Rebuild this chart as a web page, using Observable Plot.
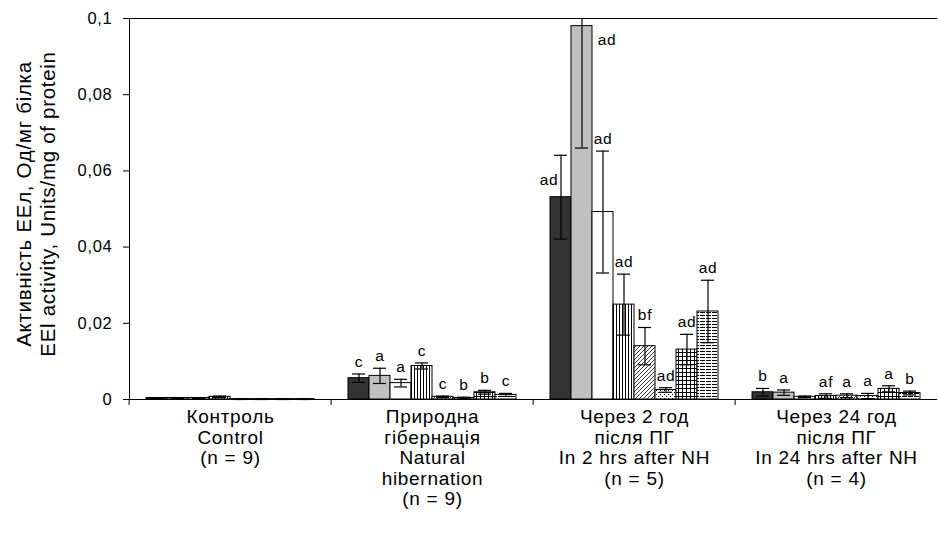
<!DOCTYPE html>
<html>
<head>
<meta charset="utf-8">
<script src="https://cdn.jsdelivr.net/npm/d3@7"></script>
<script src="https://cdn.jsdelivr.net/npm/@observablehq/plot@0.6"></script>
<style>
  html, body { margin: 0; padding: 0; background: #fff; }
  #chart { width: 938px; height: 533px; }
</style>
</head>
<body>
<div id="chart"></div>
<script>
// ---- data ----
const groups = ["Контроль", "Природна гібернація", "Через 2 год", "Через 24 год"];
const groupLabels = [
  "Контроль\nControl\n(n = 9)",
  "Природна\nгібернація\nNatural\nhibernation\n(n = 9)",
  "Через 2 год\nпісля ПГ\nIn 2 hrs after NH\n(n = 5)",
  "Через 24 год\nпісля ПГ\nIn 24 hrs after NH\n(n = 4)"
];
const seriesNames = ["S1", "S2", "S3", "S4", "S5", "S6", "S7", "S8"];

const controlMean = [0.0004, 0.0004, 0.0004, 0.0007, 0.0001, 0.0001, 0.0001, 0.0001];
const controlErr  = [0.0001, 0.0001, 0.0001, 0.0002, 0.0001, 0.0001, 0.0001, 0.0001];
const controlSig  = ["", "", "", "", "", "", "", ""];

const hibMean = [0.0056, 0.0062, 0.0043, 0.0088, 0.0007, 0.0004, 0.0019, 0.0012];
const hibErr  = [0.0011, 0.0020, 0.0010, 0.0008, 0.0002, 0.0002, 0.0005, 0.0004];
const hibSig  = ["c", "a", "a", "c", "c", "b", "b", "c"];

const h2Mean = [0.0531, 0.0980, 0.0492, 0.0249, 0.0140, 0.0025, 0.0131, 0.0231];
const h2Err  = [0.0110, 0.0320, 0.0160, 0.0080, 0.0049, 0.0006, 0.0040, 0.0082];
const h2Sig  = ["ad", "ad", "ad", "ad", "bf", "ad", "ad", "ad"];

const h24Mean = [0.0019, 0.0018, 0.0007, 0.0009, 0.0010, 0.0009, 0.0028, 0.0017];
const h24Err  = [0.0010, 0.0007, 0.0002, 0.0006, 0.0005, 0.0007, 0.0008, 0.0005];
const h24Sig  = ["b", "a", "", "af", "a", "a", "a", "b"];

const yTicks = [0, 0.02, 0.04, 0.06, 0.08, 0.1];
const yTitle = "Активність ЕЕл, Од/мг білка\nEEl activity, Units/mg of protein";

// ---- table built from arrays ----
const means = [controlMean, hibMean, h2Mean, h24Mean];
const errs = [controlErr, hibErr, h2Err, h24Err];
const sigs = [controlSig, hibSig, h2Sig, h24Sig];
const rows = [];
groups.forEach((g, gi) => seriesNames.forEach((s, si) => rows.push({
  group: g, series: s, gi, si,
  value: means[gi][si], lo: means[gi][si] - errs[gi][si], hi: means[gi][si] + errs[gi][si],
  sig: sigs[gi][si]
})));

// label placement (style): a few labels sit beside the bar instead of above the error bar
const special = {"2-0": {dx: -12, dy: -17}, "2-1": {dx: 25, dy: 14}};
const normalLabels = rows.filter(d => d.sig && !special[d.gi + "-" + d.si]);
const specialLabels = rows.filter(d => d.sig && special[d.gi + "-" + d.si]);

const fills = ["#333333", "#c0c0c0", "#ffffff", "url(#pV)", "url(#pD)", "url(#pDot)", "url(#pGrid)", "url(#pH)"];

const W = 938, H = 533, ML = 127, MR = 0, MT = 18, MB = 134;
const facetW = (W - ML - MR) / groups.length;
const FONT = "'Liberation Sans', Arial, sans-serif";

const marks = [
  Plot.ruleY([0.1], {stroke: "black"}),
  Plot.barY(rows, {fx: "group", x: "series", y: "value", fill: "series", stroke: "black", strokeWidth: 1}),
  Plot.ruleX(rows, {fx: "group", x: "series", y1: "lo", y2: "hi", stroke: "black", strokeWidth: 1.2, clip: true}),
  Plot.tickY(rows, {fx: "group", x: "series", y: "hi", stroke: "black", strokeWidth: 1.2, insetLeft: 4, insetRight: 4, clip: true}),
  Plot.tickY(rows, {fx: "group", x: "series", y: "lo", stroke: "black", strokeWidth: 1.2, insetLeft: 4, insetRight: 4}),
  Plot.ruleY([0], {stroke: "black"}),
  Plot.text(normalLabels, {fx: "group", x: "series", y: "hi", text: "sig", dy: -12, fontSize: 15.5, fill: "black"}),
  ...specialLabels.map(d => Plot.text([d], {fx: "group", x: "series", y: "value", text: "sig",
      dx: special[d.gi + "-" + d.si].dx, dy: special[d.gi + "-" + d.si].dy, fontSize: 15.5, fill: "black"})),
  Plot.axisFx({anchor: "bottom", tickSize: 0, tickPadding: 9, fontSize: 19, lineHeight: 1.08,
      tickFormat: g => groupLabels[groups.indexOf(g)], label: null}),
  Plot.axisFx({anchor: "bottom", tickSize: 6, tickFormat: () => "", dx: -facetW / 2, label: null}),
  Plot.text([yTitle], {fx: () => groups[0], frameAnchor: "left", textAnchor: "middle", dx: -94, dy: -5, rotate: -90,
      fontSize: 20.5, lineHeight: 1.15, text: d => d, fill: "black"})
];

const chart = Plot.plot({
  width: W, height: H,
  marginLeft: ML, marginRight: MR, marginTop: MT, marginBottom: MB,
  style: {fontFamily: FONT, fontSize: "16.5px", color: "black", background: "white", letterSpacing: "0.7px"},
  fx: {domain: groups, padding: 0},
  x: {domain: seriesNames, paddingInner: 0, paddingOuter: 0.72, axis: null},
  y: {domain: [0, 0.1], ticks: yTicks, tickFormat: d => String(d).replace(".", ","),
      tickSize: 6, tickPadding: 11, line: true, label: null},
  color: {domain: seriesNames, range: fills},
  marks
});

// pattern definitions used by the fills
const svg = d3.select(chart.tagName.toLowerCase() === "svg" ? chart : chart.querySelector("svg"));
const defs = svg.insert("defs", ":first-child");
const mk = (id, w, h) => defs.append("pattern").attr("id", id).attr("patternUnits", "userSpaceOnUse")
  .attr("width", w).attr("height", h);
let p;
p = mk("pV", 3, 3); p.append("rect").attr("width", 3).attr("height", 3).attr("fill", "white");
p.append("rect").attr("x", 0).attr("width", 1).attr("height", 3).attr("fill", "black");
p = mk("pD", 4, 4); p.append("rect").attr("width", 4).attr("height", 4).attr("fill", "white");
p.append("path").attr("d", "M-1,1 L1,-1 M0,4 L4,0 M3,5 L5,3").attr("stroke", "#222").attr("stroke-width", 0.9);
p = mk("pDot", 4, 4); p.append("rect").attr("width", 4).attr("height", 4).attr("fill", "white");
p.append("rect").attr("x", 0).attr("y", 0).attr("width", 1).attr("height", 1).attr("fill", "black");
p.append("rect").attr("x", 2).attr("y", 2).attr("width", 1).attr("height", 1).attr("fill", "black");
p = mk("pGrid", 4, 4); p.append("rect").attr("width", 4).attr("height", 4).attr("fill", "white");
p.append("rect").attr("x", 0).attr("width", 1).attr("height", 4).attr("fill", "black");
p.append("rect").attr("y", 0).attr("width", 4).attr("height", 1).attr("fill", "black");
p = mk("pH", 6, 3); p.append("rect").attr("width", 6).attr("height", 3).attr("fill", "white");
p.append("rect").attr("x", 0).attr("y", 0).attr("width", 5).attr("height", 1).attr("fill", "black");

document.getElementById("chart").appendChild(chart);
</script>
</body>
</html>
